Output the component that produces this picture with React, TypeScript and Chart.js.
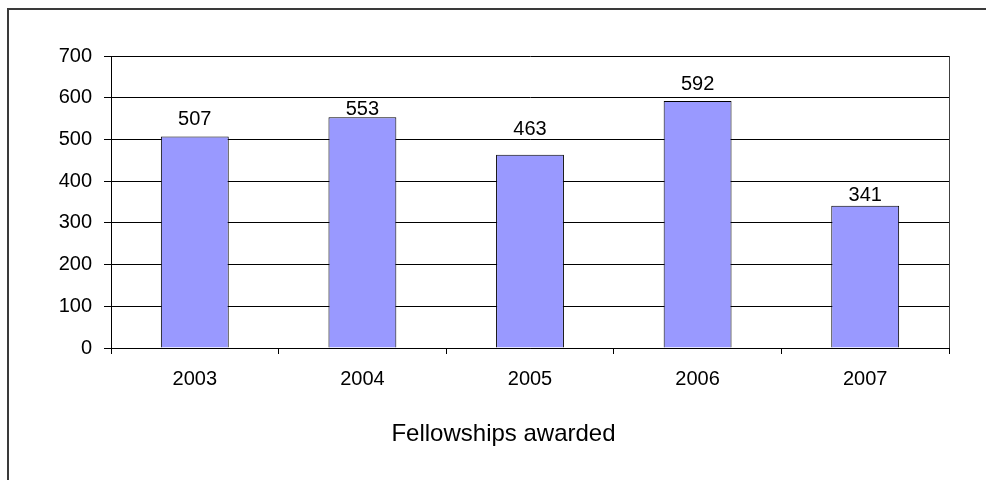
import React, { useEffect, useRef } from 'react';
import { Chart, registerables } from 'chart.js';

Chart.register(...registerables);

const categories = ['2003', '2004', '2005', '2006', '2007'];
const values = [507, 553, 463, 592, 341];
const yMin = 0;
const yMax = 700;
const yStep = 100;
const axisTitle = 'Fellowships awarded';
// gap (px) between each data label and the top of its bar, as in the original
const labelGaps = [12, 2, 20, 11, 5];

const FONT = '"Liberation Sans", Arial, sans-serif';

const extras = {
  id: 'extras',
  afterDatasetsDraw(chart: any) {
    const ctx = chart.ctx;
    const area = chart.chartArea;
    ctx.save();
    // right border of plot area
    ctx.strokeStyle = '#404040';
    ctx.lineWidth = 1;
    ctx.beginPath();
    const rx = Math.round(area.right) + 0.5;
    ctx.moveTo(rx, area.top);
    ctx.lineTo(rx, area.bottom);
    ctx.stroke();
    // data labels
    const meta = chart.getDatasetMeta(0);
    ctx.fillStyle = '#000';
    ctx.font = `20px ${FONT}`;
    ctx.textAlign = 'center';
    ctx.textBaseline = 'alphabetic';
    meta.data.forEach((bar: any, i: number) => {
      const v = chart.data.datasets[0].data[i];
      ctx.fillText(String(v), bar.x, bar.y - labelGaps[i]);
    });
    // axis title
    ctx.font = `24px ${FONT}`;
    ctx.fillText(axisTitle, 494.5, 431);
    ctx.restore();
  },
};

export default function App() {
  const ref = useRef<HTMLCanvasElement | null>(null);
  useEffect(() => {
    if (!ref.current) return;
    const chart = new Chart(ref.current, {
      type: 'bar',
      data: {
        labels: categories,
        datasets: [
          {
            data: values,
            backgroundColor: '#9999FF',
            borderColor: '#000000',
            borderWidth: 1,
            barPercentage: 0.405,
            categoryPercentage: 1.0,
          },
        ],
      },
      options: {
        animation: false,
        responsive: false,
        maintainAspectRatio: false,
        layout: { padding: { top: 46, right: 37, left: 0, bottom: 0 } },
        plugins: { legend: { display: false }, tooltip: { enabled: false } },
        scales: {
          x: {
            grid: { drawOnChartArea: false, drawTicks: true, tickLength: 6, color: '#000', offset: true },
            border: { display: true, color: '#000' },
            ticks: { font: { size: 20, family: FONT }, color: '#000', padding: 13 },
            afterFit: (s: any) => {
              s.height = 132;
            },
          },
          y: {
            min: yMin,
            max: yMax,
            ticks: { stepSize: yStep, font: { size: 20, family: FONT }, color: '#000', padding: 12 },
            grid: { color: '#000', tickLength: 7 },
            border: { display: true, color: '#000' },
            afterFit: (s: any) => {
              s.width = 102;
            },
          },
        },
      },
      plugins: [extras],
    });
    return () => chart.destroy();
  }, []);

  return (
    <div
      style={{
        position: 'fixed',
        left: 7,
        top: 8,
        right: 0,
        bottom: 0,
        borderTop: '2px solid #3a3a3a',
        borderLeft: '2px solid #3a3a3a',
        overflow: 'hidden',
        background: '#fff',
      }}
    >
      <canvas ref={ref} width={977} height={470} style={{ display: 'block', width: 977, height: 470 }} />
    </div>
  );
}
